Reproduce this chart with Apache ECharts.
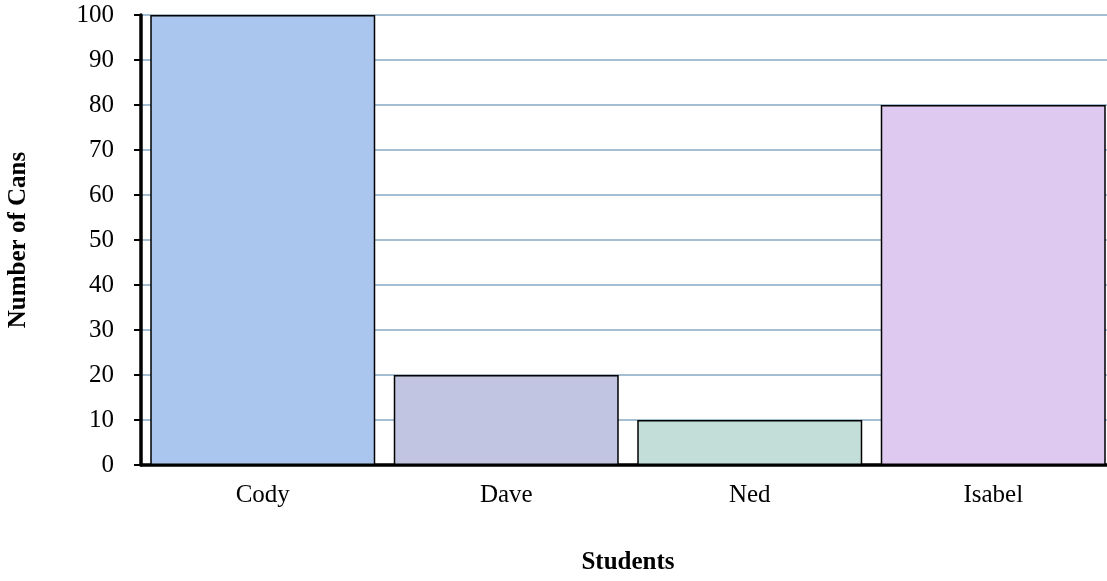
<!DOCTYPE html>
<html><head><meta charset="utf-8">
<script src="https://cdn.jsdelivr.net/npm/echarts@6/dist/echarts.min.js"></script>
<style>html,body{margin:0;padding:0;background:#fff}#c{width:1107px;height:581px}</style>
</head><body><div id="c"></div>
<script>
var categories = ['Cody', 'Dave', 'Ned', 'Isabel'];
var cans = [100, 20, 10, 80];
var barColors = ['#aac6ef', '#c1c5e1', '#c3ddd9', '#dec9f1'];
var yTicks = [0, 10, 20, 30, 40, 50, 60, 70, 80, 90, 100];

var chart = echarts.init(document.getElementById('c'), null, {renderer: 'canvas'});
var font = '"Liberation Serif", "Times New Roman", serif';
chart.setOption({
  animation: false,
  backgroundColor: '#fff',
  grid: {left: 141, right: -8, top: 15, bottom: 116, containLabel: false, outerBoundsMode: 'none'},
  xAxis: {
    type: 'category', data: categories,
    name: 'Students', nameLocation: 'middle', nameGap: 85,
    nameTextStyle: {fontFamily: font, fontSize: 25, fontWeight: 'bold', color: '#000'},
    axisLine: {lineStyle: {color: '#000', width: 3.5}},
    axisTick: {show: false},
    axisLabel: {fontFamily: font, fontSize: 25, color: '#000', margin: 18}
  },
  yAxis: {
    type: 'value', min: yTicks[0], max: yTicks[yTicks.length - 1], interval: 10,
    name: 'Number of Cans', nameLocation: 'middle', nameGap: 110, nameRotate: 90,
    nameTextStyle: {fontFamily: font, fontSize: 25, fontWeight: 'bold', color: '#000'},
    axisLine: {show: true, lineStyle: {color: '#000', width: 3.5}},
    axisTick: {show: true, length: 7, lineStyle: {color: '#000', width: 2}},
    axisLabel: {fontFamily: font, fontSize: 25, color: '#000', margin: 27},
    splitLine: {lineStyle: {color: '#87a9c3', width: 1.5}}
  },
  series: [{
    type: 'bar',
    data: cans.map(function (v, i) { return {value: v, itemStyle: {color: barColors[i]}}; }),
    barCategoryGap: '7.6%',
    itemStyle: {borderColor: '#000', borderWidth: 1.5}
  }]
});
</script></body></html>
